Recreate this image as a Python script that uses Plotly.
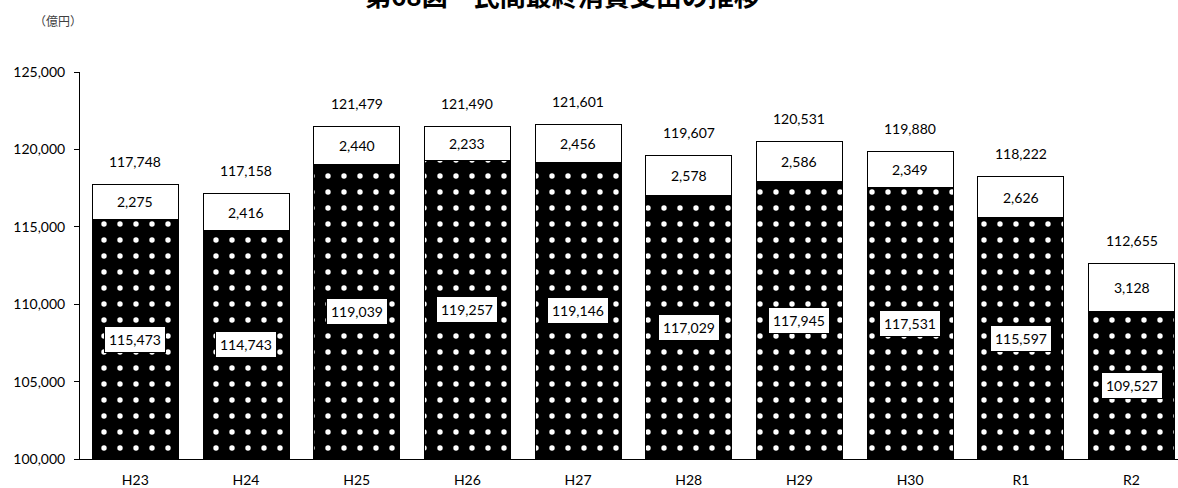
import plotly.graph_objects as go

# 年度別 民間最終消費支出（億円）
years = ["H23", "H24", "H25", "H26", "H27", "H28", "H29", "H30", "R1", "R2"]
base_values = [115473, 114743, 119039, 119257, 119146, 117029, 117945, 117531, 115597, 109527]
top_values = [2275, 2416, 2440, 2233, 2456, 2578, 2586, 2349, 2626, 3128]
totals = [117748, 117158, 121479, 121490, 121601, 119607, 120531, 119880, 118222, 112655]

y_min, y_max, y_step = 100000, 125000, 5000
tick_vals = list(range(y_min, y_max + 1, y_step))

FONT = "Lato, 'Noto Sans CJK JP', sans-serif"
JP_FONT = "'Noto Sans CJK JP', sans-serif"

fig = go.Figure()

fig.add_trace(go.Bar(
    x=years, y=base_values,
    marker=dict(
        color="black",
        line=dict(color="black", width=1),
        pattern=dict(shape=".", fgcolor="white", bgcolor="black",
                     size=16, solidity=0.09, fillmode="replace"),
    ),
    hoverinfo="skip", showlegend=False,
))
fig.add_trace(go.Bar(
    x=years, y=top_values,
    marker=dict(color="white", line=dict(color="black", width=1)),
    hoverinfo="skip", showlegend=False,
))

annotations = []
for i, yr in enumerate(years):
    b, t, tot = base_values[i], top_values[i], totals[i]
    # lower segment value: boxed label in the middle of the visible part
    annotations.append(dict(
        x=yr, y=(y_min + b) / 2, xref="x", yref="y",
        text=f"{b:,}", showarrow=False,
        font=dict(family=FONT, size=14, color="black"),
        bgcolor="white", bordercolor="black", borderwidth=1, borderpad=4,
    ))
    # upper segment value
    annotations.append(dict(
        x=yr, y=b + t / 2, xref="x", yref="y",
        text=f"{t:,}", showarrow=False,
        font=dict(family=FONT, size=14, color="black"),
    ))
    # total above the bar
    annotations.append(dict(
        x=yr, y=tot, xref="x", yref="y", yshift=23,
        text=f"{tot:,}", showarrow=False,
        font=dict(family=FONT, size=14, color="black"),
    ))

# chart title, sitting at the very top edge of the page
annotations.append(dict(
    x=0.439, y=1.1846, xref="paper", yref="paper", yanchor="bottom", yshift=-14,
    text="<b>第68図　民間最終消費支出の推移</b>", showarrow=False,
    font=dict(family=JP_FONT, size=26, color="black"),
))
# unit label
annotations.append(dict(
    x=-0.02, y=1.133, xref="paper", yref="paper",
    xanchor="center", yanchor="middle",
    text="（億円）", showarrow=False,
    font=dict(family=JP_FONT, size=12, color="#404040"),
))

fig.update_layout(
    barmode="stack",
    bargap=0.223,
    width=1178, height=488,
    margin=dict(l=80, r=0, t=72, b=26),
    plot_bgcolor="white", paper_bgcolor="white",
    font=dict(family=FONT, size=14, color="black"),
    annotations=annotations,
    xaxis=dict(
        range=[-0.5, 9.42],
        showline=True, linecolor="black", linewidth=1,
        ticks="", showgrid=False, tickfont=dict(size=14),
        ticklabelstandoff=8,
    ),
    yaxis=dict(
        range=[y_min, y_max], tickvals=tick_vals, tickformat=",",
        showline=True, linecolor="black", linewidth=1,
        ticks="outside", ticklen=5, tickcolor="black",
        showgrid=False, zeroline=False, tickfont=dict(size=14),
        ticklabelstandoff=6,
    ),
)

fig.write_html("out.html")
